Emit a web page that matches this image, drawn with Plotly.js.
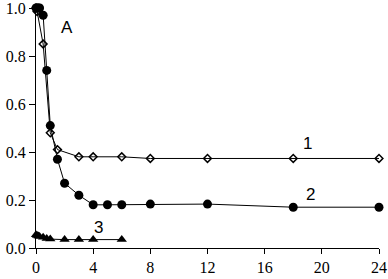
<!DOCTYPE html>
<html>
<head>
<meta charset="utf-8">
<script src="https://cdn.plot.ly/plotly-3.0.1.min.js"></script>
<style>html,body{margin:0;padding:0;background:#fff;}#chart{width:388px;height:279px;}</style>
</head>
<body>
<div id="chart"></div>
<script>
// Series 1: open diamonds
const x1 = [0, 0.08, 0.5, 1, 1.5, 3, 4, 6, 8, 12, 18, 24];
const y1 = [1.0, 0.985, 0.85, 0.48, 0.41, 0.38, 0.38, 0.38, 0.373, 0.373, 0.373, 0.373];
// Series 2: filled circles
const x2 = [0, 0.08, 0.17, 0.25, 0.5, 0.75, 1, 1.5, 2, 3, 4, 5, 6, 8, 12, 18, 24];
const y2 = [1.0, 1.0, 1.0, 1.0, 0.97, 0.74, 0.51, 0.37, 0.27, 0.22, 0.18, 0.18, 0.18, 0.183, 0.183, 0.17, 0.17];
// Series 3: filled triangles
const x3 = [0, 0.08, 0.17, 0.25, 0.5, 0.75, 1, 2, 3, 4, 6];
const y3 = [0.055, 0.052, 0.05, 0.048, 0.045, 0.04, 0.037, 0.035, 0.035, 0.035, 0.035];
// Labels
const labelText = ["A", "1", "2", "3"];
const labelX = [2.15, 19, 19.2, 4.4];
const labelY = [0.92, 0.435, 0.222, 0.085];

const lineStyle = {color: '#000', width: 1};
const traces = [
  {x: x1, y: y1, mode: 'lines+markers', line: lineStyle, cliponaxis: false,
   marker: {symbol: 'diamond-open', size: 6, color: '#000', line: {width: 1.5, color: '#000'}}},
  {x: x2, y: y2, mode: 'lines+markers', line: lineStyle, cliponaxis: false,
   marker: {symbol: 'circle', size: 9, color: '#000'}},
  {x: x3, y: y3, mode: 'lines+markers', line: lineStyle, cliponaxis: false,
   marker: {symbol: 'triangle-up', size: 9, color: '#000'}}
];

const annotations = labelText.map((t, i) => ({
  x: labelX[i], y: labelY[i], xref: 'x', yref: 'y', text: t, showarrow: false,
  font: {family: "Liberation Sans", size: 17, color: '#000'}
}));

const tickFont = {family: "Liberation Serif", size: 16, color: '#000'};
const layout = {
  width: 388, height: 279,
  margin: {l: 36, r: 9, t: 8, b: 31, pad: 0},
  paper_bgcolor: '#fff', plot_bgcolor: '#fff',
  showlegend: false,
  xaxis: {range: [0, 24], dtick: 4, tick0: 0, showgrid: false, zeroline: false,
    showline: true, linecolor: '#000', linewidth: 1, ticks: 'outside', ticklen: 5,
    tickcolor: '#000', tickfont: tickFont, ticklabeloverflow: 'allow'},
  yaxis: {range: [0, 1.0], dtick: 0.2, tick0: 0, tickformat: '.1f', showgrid: false, zeroline: false,
    showline: true, linecolor: '#000', linewidth: 1, ticks: 'outside', ticklen: 6,
    tickcolor: '#000', tickfont: tickFont, ticklabeloverflow: 'allow'},
  annotations: annotations
};
Plotly.newPlot('chart', traces, layout, {displayModeBar: false, staticPlot: true});
</script>
</body>
</html>
